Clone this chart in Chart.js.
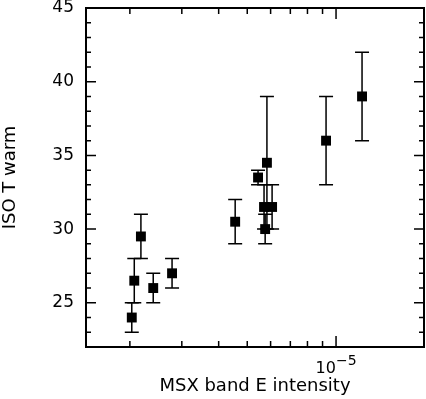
<!DOCTYPE html>
<html>
<head>
<meta charset="utf-8">
<script src="https://cdn.jsdelivr.net/npm/chart.js@4.4.0/dist/chart.umd.min.js"></script>
<style>
  html, body { margin: 0; padding: 0; background: #fff; }
  #wrap { width: 426px; height: 399px; }
</style>
</head>
<body>
<div id="wrap"><canvas id="isoChart"></canvas></div>
<script>
// MSX band E intensity vs ISO T warm

const xValues = [2.03e-6, 2.07e-6, 2.18e-6, 2.40e-6, 2.78e-6, 4.55e-6, 5.44e-6, 5.70e-6, 5.75e-6, 5.83e-6, 6.07e-6, 9.25e-6, 1.225e-5];
const yValues = [24, 26.5, 29.5, 26, 27, 30.5, 33.5, 31.5, 30, 34.5, 31.5, 36, 39];
const yErrors = [1, 1.5, 1.5, 1, 1, 1.5, 0.5, 1.5, 1, 4.5, 1.5, 3, 3];

const xMajorTicks = [1e-5];
const xMinorTicks = [2e-6, 3e-6, 4e-6, 5e-6, 6e-6, 7e-6, 8e-6, 9e-6];
const yMajorTicks = [25, 30, 35, 40, 45];
const yMinorTicks = [23, 24, 26, 27, 28, 29, 31, 32, 33, 34, 36, 37, 38, 39, 41, 42, 43, 44];

const fontFamily = "'DejaVu Sans', sans-serif";

// no extra padding from tick labels, so the plot box lands where we put it
function noPadding(s) {
    s.paddingTop = 0;
    s.paddingBottom = 0;
    s.paddingLeft = 0;
    s.paddingRight = 0;
}

// error bars, box frame and inward ticks
const framePlugin = {
    id: 'framePlugin',
    beforeDatasetsDraw(chart) {
        const ctx = chart.ctx;
        const xs = chart.scales.x, ys = chart.scales.y;
        ctx.save();
        ctx.strokeStyle = '#000';
        ctx.lineWidth = 1.5;
        xValues.forEach((xv, i) => {
            const px = xs.getPixelForValue(xv);
            const top = ys.getPixelForValue(yValues[i] + yErrors[i]);
            const bot = ys.getPixelForValue(yValues[i] - yErrors[i]);
            ctx.beginPath();
            ctx.moveTo(px, top); ctx.lineTo(px, bot);
            ctx.moveTo(px - 7, top); ctx.lineTo(px + 7, top);
            ctx.moveTo(px - 7, bot); ctx.lineTo(px + 7, bot);
            ctx.stroke();
        });
        ctx.restore();
    },
    afterDatasetsDraw(chart) {
        const ctx = chart.ctx;
        const a = chart.chartArea;
        const xs = chart.scales.x, ys = chart.scales.y;
        ctx.save();
        ctx.strokeStyle = '#000';
        ctx.lineWidth = 2;
        ctx.strokeRect(a.left, a.top, a.right - a.left, a.bottom - a.top);

        ctx.lineWidth = 1.5;
        ctx.beginPath();
        const xTick = (v, len) => {
            const px = xs.getPixelForValue(v);
            ctx.moveTo(px, a.bottom); ctx.lineTo(px, a.bottom - len);
            ctx.moveTo(px, a.top); ctx.lineTo(px, a.top + len);
        };
        const yTick = (v, len) => {
            const py = ys.getPixelForValue(v);
            ctx.moveTo(a.left, py); ctx.lineTo(a.left + len, py);
            ctx.moveTo(a.right, py); ctx.lineTo(a.right - len, py);
        };
        xMinorTicks.forEach(v => xTick(v, 6));
        xMajorTicks.forEach(v => xTick(v, 11));
        yMinorTicks.forEach(v => yTick(v, 5));
        yMajorTicks.forEach(v => yTick(v, 10));
        ctx.stroke();

        // x tick label 10^-5
        ctx.fillStyle = '#000';
        ctx.textBaseline = 'alphabetic';
        xMajorTicks.forEach(v => {
            const px = xs.getPixelForValue(v);
            const exp = Math.round(Math.log10(v));
            ctx.font = '16px ' + fontFamily;
            const w1 = ctx.measureText('10').width;
            ctx.font = '14px ' + fontFamily;
            const sup = '\u2212' + Math.abs(exp);
            const w2 = ctx.measureText(sup).width;
            const x0 = px - (w1 + w2) / 2;
            ctx.font = '16px ' + fontFamily;
            ctx.fillText('10', x0, a.bottom + 26);
            ctx.font = '14px ' + fontFamily;
            ctx.fillText(sup, x0 + w1, a.bottom + 18);
        });
        ctx.restore();
    }
};

new Chart(document.getElementById('isoChart'), {
    type: 'scatter',
    data: {
        datasets: [{
            data: xValues.map((x, i) => ({ x: x, y: yValues[i] })),
            pointStyle: 'rect',
            pointRadius: 7,
            pointHoverRadius: 7,
            backgroundColor: '#000',
            borderColor: '#000',
            borderWidth: 0
        }]
    },
    options: {
        responsive: true,
        maintainAspectRatio: false,
        animation: false,
        layout: { autoPadding: false, padding: { top: 8, right: 2, left: 0, bottom: 0 } },
        plugins: {
            legend: { display: false },
            tooltip: { enabled: false }
        },
        scales: {
            x: {
                type: 'logarithmic',
                min: 1.42e-6,
                max: 1.987e-5,
                grid: { display: false, drawTicks: false },
                border: { display: false },
                ticks: { display: false },
                title: {
                    display: true,
                    text: 'MSX band E intensity',
                    color: '#000',
                    font: { family: fontFamily, size: 18 },
                    padding: { top: 0, bottom: 2 }
                },
                afterFit: s => { s.height = 52; noPadding(s); }
            },
            y: {
                min: 22,
                max: 45,
                afterBuildTicks: s => { s.ticks = yMajorTicks.map(v => ({ value: v })); },
                grid: { display: false, drawTicks: false },
                border: { display: false },
                ticks: {
                    color: '#000',
                    padding: 12,
                    font: { family: fontFamily, size: 17, lineHeight: 1 }
                },
                title: {
                    display: true,
                    text: 'ISO T warm',
                    color: '#000',
                    font: { family: fontFamily, size: 18 },
                    padding: { top: 0, bottom: 0 }
                },
                afterFit: s => { s.width = 86; noPadding(s); }
            }
        }
    },
    plugins: [framePlugin]
});
</script>
</body>
</html>
